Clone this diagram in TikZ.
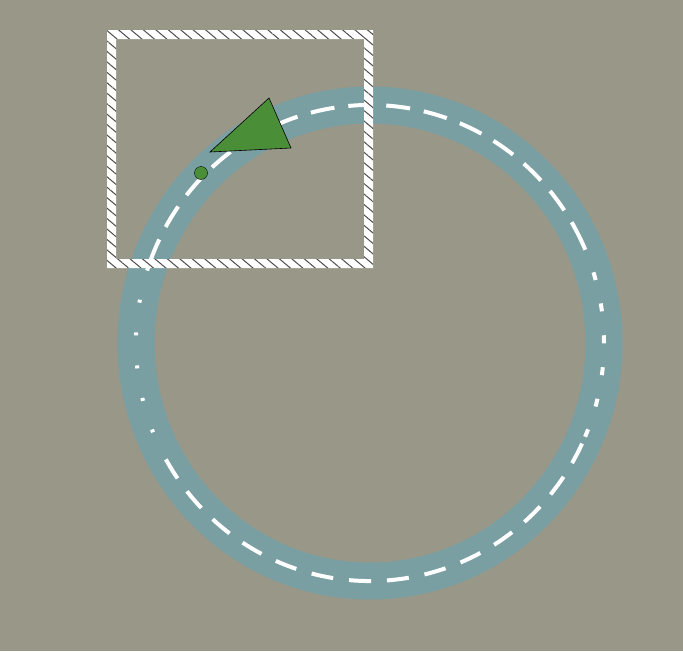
\documentclass[tikz,border=0pt]{standalone}
\usepackage{tikz}
\usetikzlibrary{patterns.meta}

\definecolor{ground}{RGB}{153,152,136}
\definecolor{water}{RGB}{121,159,162}
\definecolor{leaf}{RGB}{74,143,56}

\begin{document}
\begin{tikzpicture}[x=1pt, y=-1pt]
    \useasboundingbox (0,0) rectangle (683,651);
    \fill[ground] (0,0) rectangle (683,651);
    % ring
    \draw[water, line width=37] (370,343) ellipse [x radius=234, y radius=238];
    % centre line, long dashes at top and bottom, short ones at the sides
    \draw[white, line width=4, dash pattern=on 24 off 14] (370,343) ++(200:234 and 238) arc [start angle=200, end angle=335, x radius=234, y radius=238];
    \draw[white, line width=4, dash pattern=on 22 off 16] (370,343) ++(25:234 and 238) arc [start angle=25, end angle=150, x radius=234, y radius=238];
    \draw[white, line width=4, dash pattern=on 8 off 24] (370,343) ++(-25:234 and 238) arc [start angle=-25, end angle=25, x radius=234, y radius=238];
    \draw[white, line width=4, dash pattern=on 3 off 30] (370,343) ++(150:234 and 238) arc [start angle=150, end angle=200, x radius=234, y radius=238];
    % frame
    \fill[white, even odd rule] (107,30) rectangle (373,268) (116,39) rectangle (364,259);
    \fill[even odd rule, pattern={Lines[angle=-40, distance=8pt, line width=1pt]}, pattern color=black!70]
        (107,30) rectangle (373,268) (116,39) rectangle (364,259);
    % marker and dot
    \coordinate (tip) at (269,98);
    \coordinate (right) at (291,148);
    \coordinate (left) at (210,152);
    \draw[fill=leaf, semithick] (tip) -- (right) -- (left) -- cycle;
    \draw[fill=leaf, thin] (201,173) circle [radius=6.5];
\end{tikzpicture}
\end{document}
